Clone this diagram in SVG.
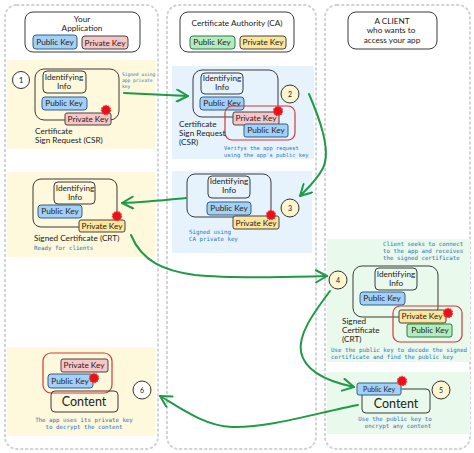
<svg xmlns="http://www.w3.org/2000/svg" width="474" height="453" viewBox="0 0 474 453">
<defs>
<marker id="ah" markerUnits="userSpaceOnUse" markerWidth="16" markerHeight="14" refX="13" refY="7" orient="auto"><path d="M2,1 L13,7 L2,13" fill="none" stroke="#1f9a47" stroke-width="2" stroke-linecap="round" stroke-linejoin="round"/></marker>
</defs>
<style>
text{font-family:"Lato","Liberation Sans",sans-serif;fill:#222;font-size:8.2px}
.c{text-anchor:middle}
.d{font-size:7px}
.t{font-size:12.5px}
.n{font-family:"DejaVu Sans Mono","Liberation Mono",monospace;font-size:5.8px;fill:#2f74b5}
.n2{font-size:5.4px}
.n3{font-size:4.6px}
.panel{fill:none;stroke:#cfd2d6;stroke-width:2;stroke-dasharray:1.5 3.5;stroke-linecap:round}
.box{fill:none;stroke:#3a3a3a;stroke-width:1}
.pub{fill:#a5d0f5;stroke:#2f5f88;stroke-width:1}
.pri{fill:#f8c6c6;stroke:#444;stroke-width:1}
.grn{fill:#b5ecbe;stroke:#2d7a45;stroke-width:1}
.yel{fill:#fde59a;stroke:#444;stroke-width:1}
.red{fill:none;stroke:#cf3b3b;stroke-width:1.2}
.blob{fill:#e8101a;stroke:#f03a3a;stroke-width:1.4;stroke-dasharray:1.5 1}
.num{fill:#fff;stroke:#333;stroke-width:1}
.numy{fill:#fdf6d0;stroke:#333;stroke-width:1}
.ybg{fill:#fef8dc}
.bbg{fill:#e6f3fd}
.gbg{fill:#e9f9ec}
.wire{fill:none;stroke:#1f9a47;stroke-width:2;stroke-linecap:round;marker-end:url(#ah)}
</style>
<g id="panels">
<rect class="panel" x="5" y="5" width="153" height="444" rx="12"/>
<rect class="panel" x="167" y="5" width="149" height="444" rx="12"/>
<rect class="panel" x="325" y="5" width="145" height="444" rx="12"/>
</g>
<g id="backgrounds">
<rect class="ybg" x="7" y="60" width="148" height="89"/>
<rect class="ybg" x="7" y="172" width="148" height="85"/>
<rect class="ybg" x="7" y="347" width="148" height="89"/>
<rect class="bbg" x="172" y="66" width="142" height="93"/>
<rect class="bbg" x="172" y="171" width="140" height="82"/>
<rect class="gbg" x="327" y="239" width="143" height="123"/>
<rect class="gbg" x="327" y="372" width="143" height="62"/>
</g>
<g id="node-app">
<rect class="box" x="25" y="12" width="115" height="40" rx="8"/>
<text class="c" x="82" y="22">Your</text><text class="c" x="82" y="31">Application</text>
<rect class="pub" x="33" y="35" width="44" height="14" rx="3"/><text class="c" x="55" y="45">Public Key</text>
<rect class="pri" x="82" y="36" width="46" height="13" rx="3"/><text class="c" x="105" y="46">Private Key</text>
</g>
<g id="node-ca">
<rect class="box" x="180" y="12" width="114" height="40" rx="8"/>
<text class="c" x="237" y="26">Certificate Authority (CA)</text>
<rect class="grn" x="190" y="36" width="45" height="13" rx="3"/><text class="c" x="212" y="45">Public Key</text>
<rect class="yel" x="240" y="36" width="46" height="13" rx="3"/><text class="c" x="263" y="45">Private Key</text>
</g>
<g id="node-client">
<rect class="box" x="348" y="12" width="89" height="37" rx="8"/>
<text class="c" x="392" y="24">A CLIENT</text><text class="c" x="391" y="33">who wants to</text><text class="c" x="392" y="43">access your app</text>
</g>
<g id="node-1">
<circle class="num" cx="21" cy="80" r="8.5"/><text class="c" x="21" y="83">1</text>
<rect class="box" x="35" y="69" width="84" height="51" rx="9"/>
<rect class="box" x="43" y="71" width="43" height="22" rx="4"/><text class="c" x="64" y="80">Identifying</text><text class="c" x="64" y="89">Info</text>
<rect class="pub" x="42" y="97" width="45" height="13" rx="3"/><text class="c" x="64" y="106">Public Key</text>
<rect class="pri" x="65" y="113" width="46" height="12" rx="2"/><text class="c" x="88" y="122">Private Key</text>
<circle class="blob" cx="106" cy="110" r="4.5"/>
<text x="35" y="134">Certificate</text><text x="35" y="143">Sign Request (CSR)</text>
<text class="n n3" x="122" y="76">Signed using</text><text class="n n3" x="122" y="82">app private</text><text class="n n3" x="122" y="88">key</text>
</g>
<g id="node-2">
<circle class="numy" cx="290" cy="94" r="9"/><text class="c d" x="290" y="97">2</text>
<rect class="box" x="193" y="70" width="85" height="47" rx="9"/>
<rect class="box" x="201" y="73" width="42" height="21" rx="4"/><text class="c" x="222" y="81">Identifying</text><text class="c" x="222" y="90">Info</text>
<rect class="pub" x="200" y="97" width="44" height="13" rx="3"/><text class="c" x="222" y="106">Public Key</text>
<rect class="red" x="225" y="106" width="70" height="34" rx="7"/>
<rect class="pri" x="233" y="112" width="46" height="13" rx="2"/><text class="c" x="256" y="121">Private Key</text>
<rect class="pub" x="244" y="124" width="44" height="13" rx="2"/><text class="c" x="266" y="133">Public Key</text>
<circle class="blob" cx="278" cy="111" r="4.5"/>
<text x="179" y="127">Certificate</text><text x="179" y="136">Sign Request</text><text x="179" y="145">(CSR)</text>
<text class="n n2" x="224" y="150">Verifys the app request</text><text class="n n2" x="224" y="157">using the app's public key</text>
</g>
<g id="node-3">
<circle class="numy" cx="290" cy="208" r="9"/><text class="c d" x="290" y="211">3</text>
<rect class="box" x="187" y="174" width="84" height="43" rx="8"/>
<rect class="box" x="208" y="176" width="42" height="22" rx="4"/><text class="c" x="229" y="184">Identifying</text><text class="c" x="229" y="193">Info</text>
<rect class="pub" x="207" y="202" width="44" height="13" rx="3"/><text class="c" x="229" y="211">Public Key</text>
<rect class="yel" x="233" y="216" width="46" height="13" rx="2"/><text class="c" x="256" y="226">Private Key</text>
<circle class="blob" cx="271" cy="215" r="4.5"/>
<text class="n" x="189" y="234">Signed using</text><text class="n" x="189" y="241">CA private key</text>
</g>
<g id="node-crt-app">
<rect class="box" x="33" y="179" width="84" height="48" rx="8"/>
<rect class="box" x="54" y="182" width="41" height="22" rx="4"/><text class="c" x="75" y="191">Identifying</text><text class="c" x="75" y="200">Info</text>
<rect class="pub" x="38" y="205" width="44" height="13" rx="3"/><text class="c" x="60" y="214">Public Key</text>
<rect class="yel" x="79" y="220" width="46" height="12" rx="2"/><text class="c" x="102" y="229">Private Key</text>
<circle class="blob" cx="117" cy="216" r="4.5"/>
<text x="34" y="241">Signed Certificate (CRT)</text>
<text class="n" x="34" y="250">Ready for clients</text>
</g>
<g id="node-4">
<circle class="numy" cx="338" cy="280" r="9"/><text class="c d" x="338" y="283">4</text>
<text class="n" x="383" y="246">Client seeks to connect</text><text class="n" x="383" y="253">to the app and receives</text><text class="n" x="383" y="260">the signed certificate</text>
<rect class="box" x="353" y="266" width="85" height="51" rx="9"/>
<rect class="box" x="375" y="268" width="42" height="22" rx="4"/><text class="c" x="396" y="277">Identifying</text><text class="c" x="396" y="286">Info</text>
<rect class="pub" x="360" y="292" width="45" height="13" rx="3"/><text class="c" x="382" y="301">Public Key</text>
<rect class="red" x="393" y="306" width="69" height="36" rx="7"/>
<rect class="yel" x="399" y="310" width="47" height="13" rx="2"/><text class="c" x="422" y="319">Private Key</text>
<rect class="grn" x="407" y="324" width="45" height="13" rx="2"/><text class="c" x="430" y="333">Public Key</text>
<circle class="blob" cx="448" cy="313" r="4.5"/>
<text x="342" y="324">Signed</text><text x="342" y="333">Certificate</text><text x="342" y="342">(CRT)</text>
<text class="n" x="331" y="352">Use the public key to decode the signed</text><text class="n" x="331" y="359">certificate and find the public key</text>
</g>
<g id="node-5">
<circle class="numy" cx="441" cy="390" r="9"/><text class="c d" x="441" y="393">5</text>
<rect class="box" x="362" y="389" width="68" height="24" rx="4"/><text class="c t" x="396" y="408">Content</text>
<rect class="pub" x="357" y="383" width="44" height="12" rx="2"/><text class="c d" x="379" y="391.5">Public Key</text>
<circle class="blob" cx="402" cy="381" r="4.5"/>
<text class="n c" x="395" y="421">Use the public key to</text><text class="n c" x="398" y="428">encrypt any content</text>
</g>
<g id="node-6">
<circle class="num" cx="142" cy="390" r="9"/><text class="c d" x="142" y="393">6</text>
<rect class="red" x="43" y="353" width="69" height="40" rx="8"/>
<rect class="pri" x="61" y="359" width="47" height="13" rx="2"/><text class="c" x="84" y="368">Private Key</text>
<rect class="pub" x="48" y="374" width="45" height="14" rx="3"/><text class="c" x="70" y="384">Public Key</text>
<circle class="blob" cx="94" cy="378" r="4.5"/>
<rect class="box" x="51" y="391" width="67" height="21" rx="4"/><text class="c t" x="84" y="406">Content</text>
<text class="n c" x="84" y="422">The app uses its private key</text><text class="n c" x="84" y="429">to decrypt the content</text>
</g>
<g id="connectors">
<path class="wire" d="M124,93 C145,94 165,95 188,96"/>
<path class="wire" d="M309,94 C318,115 332,150 323,168 C317,180 308,188 300,196"/>
<path class="wire" d="M186,198 C165,200 145,202 122,203"/>
<path class="wire" d="M131,235 C142,262 165,271 195,275 C235,279 285,277 327,276"/>
<path class="wire" d="M330,291 C312,315 298,335 301,352 C305,372 330,382 354,387"/>
<path class="wire" d="M358,405 C320,412 270,428 232,427 C205,426 180,408 160,396"/>
</g>
</svg>
